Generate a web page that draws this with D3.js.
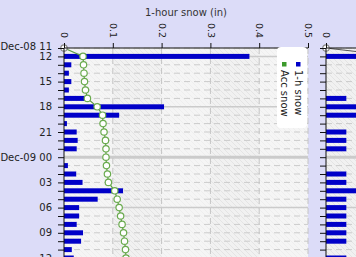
<!DOCTYPE html>
<html>
<head>
<meta charset="utf-8">
<script src="https://cdn.jsdelivr.net/npm/d3@7"></script>
<style>
  body { margin: 0; background: #dcdcf8; }
  svg { display: block; font-family: "DejaVu Sans", sans-serif; }
</style>
</head>
<body>
<svg id="chart" width="356" height="257"></svg>
<script>
const svg = d3.select("#chart");

// hourly times (Dec-08 11:00 .. Dec-09 12:00)
const times = [
  "2008-12-08T11:00", "2008-12-08T12:00", "2008-12-08T13:00", "2008-12-08T14:00",
  "2008-12-08T15:00", "2008-12-08T16:00", "2008-12-08T17:00", "2008-12-08T18:00",
  "2008-12-08T19:00", "2008-12-08T20:00", "2008-12-08T21:00", "2008-12-08T22:00",
  "2008-12-08T23:00", "2008-12-09T00:00", "2008-12-09T01:00", "2008-12-09T02:00",
  "2008-12-09T03:00", "2008-12-09T04:00", "2008-12-09T05:00", "2008-12-09T06:00",
  "2008-12-09T07:00", "2008-12-09T08:00", "2008-12-09T09:00", "2008-12-09T10:00",
  "2008-12-09T11:00", "2008-12-09T12:00"
];
// 1-hour snow (in)
const snow1h = [0, 0.38, 0.015, 0.01, 0.015, 0.01, 0.043, 0.205, 0.113, 0.006, 0.026, 0.028,
  0.026, 0, 0.008, 0.025, 0.038, 0.121, 0.069, 0.031, 0.031, 0.026, 0.039, 0.035, 0.016, 0.02];
// accumulated snow, drawn on the 0..5 scale
const accSnow = [0, 0.39, 0.40, 0.41, 0.42, 0.44, 0.48, 0.68, 0.79, 0.80, 0.82, 0.85,
  0.86, 0.86, 0.87, 0.89, 0.91, 1.04, 1.09, 1.13, 1.16, 1.19, 1.22, 1.24, 1.26, 1.27];
// second (cut off) panel
const rightBars = [0, 2, 0, 0, 0, 0, 1, 2, 2, 0, 1, 1, 1, 0, 0, 1, 1, 2, 1, 1, 1, 1, 1, 1, 0, 1];
const rightAcc = [0, 3.5, 3.5, 3.5, 3.5, 3.5, 4.5, 6.5, 8.5, 8.5, 9.5, 10.5, 11.5, 11.5, 11.5,
  12.5, 13.5, 15.5, 16.5, 17.5, 18.5, 19.5, 20.5, 21.5, 21.5, 22.5];
const xTicks = [0, 0.1, 0.2, 0.3, 0.4, 0.5];

const parse = d3.timeParse("%Y-%m-%dT%H:%M");
const rows = times.map((t, i) => ({
  t: parse(t), snow: snow1h[i], acc: accSnow[i], rb: rightBars[i], ra: rightAcc[i]
}));

const plotTop = 48;
const plotBottom = 257;
const y = d3.scaleTime()
  .domain([rows[0].t, rows[rows.length - 1].t])
  .range([plotTop, plotTop + 25 * 8.4]);

const x = d3.scaleLinear().domain([0, 0.5]).range([64, 308]);
const xAcc = d3.scaleLinear().domain([0, 5]).range([64, 308]);
const x2 = d3.scaleLinear().domain([0, 12]).range([326, 570]);
const x2Acc = d3.scaleLinear().domain([0, 3.5]).range([326, 398]);

const defs = svg.append("defs");
const pat = defs.append("pattern")
  .attr("id", "hatch")
  .attr("patternUnits", "userSpaceOnUse")
  .attr("width", 5).attr("height", 5);
pat.append("rect").attr("width", 5).attr("height", 5).attr("fill", "#f1f1f1");
pat.append("path").attr("d", "M-1,-1L6,6M-1,4L1,6M4,-1L6,1")
  .attr("stroke", "#e4e4e4").attr("stroke-width", 1);

svg.append("text")
  .attr("x", 186).attr("y", 16)
  .attr("text-anchor", "middle")
  .attr("font-size", "10px")
  .attr("fill", "#333")
  .text("1-hour snow (in)");

function panel(xs, x0, x1, ticks, barKey, accKey, accScale, lineColor, dotColor) {
  const g = svg.append("g");

  g.append("rect")
    .attr("x", x0).attr("y", plotTop)
    .attr("width", x1 - x0).attr("height", plotBottom - plotTop)
    .attr("fill", "url(#hatch)");

  // alternate vertical bands
  g.selectAll(".band")
    .data(ticks.slice(0, -1).filter((d, i) => i % 2 === 0))
    .enter().append("rect")
    .attr("x", d => xs(d)).attr("y", plotTop)
    .attr("width", d => xs(d + 0.1) - xs(d)).attr("height", plotBottom - plotTop)
    .attr("fill", "#fafafa").attr("opacity", 0.45);

  // hourly grid
  g.selectAll(".hgrid")
    .data(rows)
    .enter().append("line")
    .attr("x1", x0).attr("x2", x1)
    .attr("y1", d => y(d.t)).attr("y2", d => y(d.t))
    .attr("stroke", "#cbcbcb")
    .attr("stroke-width", d => d.t.getHours() === 0 ? 3 : (d.t.getHours() % 6 === 0 ? 1.5 : 1))
    .attr("stroke-dasharray", d => d.t.getHours() % 6 === 0 ? null : "6,4");

  g.selectAll(".vgrid")
    .data(ticks.slice(1))
    .enter().append("line")
    .attr("x1", d => xs(d)).attr("x2", d => xs(d))
    .attr("y1", plotTop).attr("y2", plotBottom)
    .attr("stroke", "#c4c4c4")
    .attr("stroke-dasharray", "6,4");

  g.selectAll(".bar")
    .data(rows.filter(d => d[barKey] > 0))
    .enter().append("rect")
    .attr("x", xs(0))
    .attr("y", d => y(d.t) - 2.5)
    .attr("width", d => xs(d[barKey]) - xs(0))
    .attr("height", 5)
    .attr("fill", "#0000c8");

  const line = d3.line()
    .x(d => accScale(d[accKey]))
    .y(d => y(d.t));
  g.append("path")
    .datum(rows)
    .attr("d", line)
    .attr("fill", "none")
    .attr("stroke", lineColor)
    .attr("stroke-width", 1.2);

  g.selectAll(".dot")
    .data(rows)
    .enter().append("circle")
    .attr("cx", d => accScale(d[accKey]))
    .attr("cy", d => y(d.t))
    .attr("r", 3.2)
    .attr("fill", "#fff")
    .attr("stroke", (d, i) => i === 0 ? "#8a8a8a" : dotColor)
    .attr("stroke-width", 1.2);

  // axes
  const yAxis = g.append("g")
    .attr("transform", `translate(${x0},0)`)
    .call(d3.axisLeft(y).ticks(d3.timeHour.every(1)).tickSize(6).tickFormat(""));
  yAxis.select(".domain").attr("d", `M0,${plotTop}V${plotBottom + 5}`).attr("stroke", "#111");
  yAxis.selectAll("line").attr("stroke", "#111");

  const xAxis = g.append("g")
    .attr("transform", `translate(0,${plotTop})`)
    .call(d3.axisTop(xs).tickValues(ticks).tickSize(5).tickFormat(d3.format("")));
  xAxis.select(".domain").attr("d", `M${x0},0H${x1}`).attr("stroke", "#111");
  xAxis.selectAll("line").attr("stroke", "#111");
  xAxis.selectAll("text")
    .attr("transform", "rotate(90)")
    .attr("x", -10).attr("y", 0)
    .attr("dy", "0.35em")
    .attr("text-anchor", "end")
    .attr("font-size", "9.5px")
    .attr("font-family", "DejaVu Sans, sans-serif")
    .attr("fill", "#222");
  return g;
}

panel(x, 64, 308, xTicks, "snow", "acc", xAcc, "#5c9c45", "#6aab4e");
panel(x2, 326, 600, [0], "rb", "ra", x2Acc, "#555", "#777");

// y tick labels
const labelRows = rows.filter((d, i) => i === 0 || d.t.getHours() % 3 === 0);
const fmtDay = d3.timeFormat("%b-%d %H");
const fmtHour = d3.timeFormat("%H");
svg.append("g").selectAll("text")
  .data(labelRows)
  .enter().append("text")
  .attr("x", 52)
  .attr("y", (d, i) => y(d.t) - (i === 0 ? 2 : 0))
  .attr("dy", "0.35em")
  .attr("text-anchor", "end")
  .attr("font-size", "10px")
  .attr("fill", "#222")
  .text((d, i) => (i === 0 || d.t.getHours() === 0) ? fmtDay(d.t) : fmtHour(d.t));

// legend
const lg = svg.append("g");
lg.append("rect")
  .attr("x", 277).attr("y", 47)
  .attr("width", 30).attr("height", 81)
  .attr("rx", 4)
  .attr("fill", "#fff");
const legendItems = [
  { label: "1-h snow", color: "#0000c8", cx: 298 },
  { label: "Acc snow", color: "#3c9a2c", cx: 284 }
];
legendItems.forEach(d => {
  lg.append("rect")
    .attr("x", d.cx - 2).attr("y", 62)
    .attr("width", 4.5).attr("height", 4.5)
    .attr("fill", d.color);
  lg.append("text")
    .attr("transform", `translate(${d.cx},70) rotate(90)`)
    .attr("dy", "0.35em")
    .attr("font-size", "10px")
    .attr("fill", "#222")
    .text(d.label);
});
</script>
</body>
</html>
